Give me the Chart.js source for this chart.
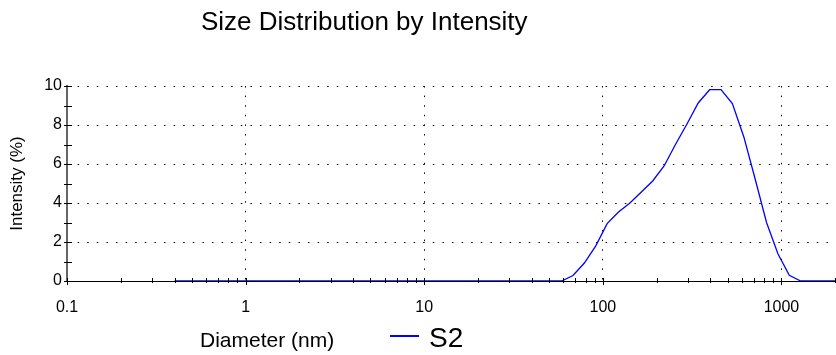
<!DOCTYPE html>
<html>
<head>
<meta charset="utf-8">
<script src="https://cdn.jsdelivr.net/npm/chart.js@4.4.0/dist/chart.umd.min.js"></script>
<style>
    html, body { margin: 0; padding: 0; background: #fff; }
    #contenedor { width: 836px; height: 355px; position: relative; }
</style>
</head>
<body>
<div id="contenedor"><canvas id="graficoTamano"></canvas></div>
<script>
// Clases de tamaño (nm) del equipo
const diametros = [
    0.4, 0.4632, 0.5365, 0.6213, 0.7195, 0.8332, 0.9649, 1.117, 1.294, 1.499,
    1.736, 2.01, 2.328, 2.696, 3.122, 3.615, 4.187, 4.849, 5.615, 6.503,
    7.531, 8.721, 10.1, 11.7, 13.54, 15.69, 18.17, 21.04, 24.36, 28.21,
    32.67, 37.84, 43.82, 50.75, 58.77, 68.06, 78.82, 91.28, 105.7, 122.4,
    141.8, 164.2, 190.1, 220.2, 255.0, 295.3, 342.0, 396.1, 458.7, 531.2,
    615.1, 712.4, 825.0, 955.4, 1106, 1281, 1484, 1718, 1990, 2305,
    2669, 3091, 3580, 4145, 4801, 5560, 6439, 7456, 8635, 10000
];

// Intensidad (%) de la muestra S2
const intensidad = [
    0, 0, 0, 0, 0, 0, 0, 0, 0, 0,
    0, 0, 0, 0, 0, 0, 0, 0, 0, 0,
    0, 0, 0, 0, 0, 0, 0, 0, 0, 0,
    0, 0, 0, 0, 0, 0.28, 0.92, 1.8, 2.94, 3.54,
    4.0, 4.56, 5.13, 5.9, 7.0, 8.04, 9.13, 9.81, 9.81, 9.1,
    7.4, 5.23, 3.0, 1.4, 0.29, 0, 0, 0, 0, 0,
    0, 0, 0, 0, 0, 0, 0, 0, 0, 0
];

const marcasX = [0.1, 1, 10, 100, 1000];
const etiquetasX = ['0.1', '1', '10', '100', '1000'];
const marcasY = [0, 2, 4, 6, 8, 10];
const nombreSerie = 'S2';

const fuente = "'Liberation Sans', Arial, sans-serif";
const puntitos = [1.5, 8.1];

// Marcas pequeñas de los ejes, título y leyenda
const extras = {
    id: 'extras',
    afterDraw(chart) {
        const ctx = chart.ctx;
        const ejeX = chart.scales.x;
        const ejeY = chart.scales.y;
        const abajo = chart.chartArea.bottom;
        const izq = chart.chartArea.left;

        ctx.save();
        ctx.strokeStyle = '#000';
        ctx.lineWidth = 1;
        ctx.beginPath();
        marcasX.forEach(function(dec) {
            for (let j = 1; j <= 9; j++) {
                const v = dec * j;
                if (v > ejeX.max) break;
                const px = Math.round(ejeX.getPixelForValue(v)) + 0.5;
                if (j === 1) {
                    ctx.moveTo(px, abajo - 3);
                    ctx.lineTo(px, abajo + 4);
                } else {
                    ctx.moveTo(px, abajo - 3);
                    ctx.lineTo(px, abajo + 2);
                }
            }
        });
        for (let v = ejeY.min; v <= ejeY.max; v++) {
            const py = Math.round(ejeY.getPixelForValue(v)) + 0.5;
            ctx.moveTo(izq - 3, py);
            ctx.lineTo(izq + 5, py);
        }
        ctx.stroke();

        ctx.fillStyle = '#000';
        ctx.textBaseline = 'alphabetic';
        ctx.textAlign = 'left';
        ctx.font = '26px ' + fuente;
        ctx.fillText('Size Distribution by Intensity', 201, 30);

        ctx.font = '21px ' + fuente;
        ctx.fillText('Diameter (nm)', 200, 347);

        // Leyenda
        const serie = chart.data.datasets[0];
        ctx.strokeStyle = serie.borderColor;
        ctx.lineWidth = 2;
        ctx.beginPath();
        ctx.moveTo(390, 336);
        ctx.lineTo(419, 336);
        ctx.stroke();
        ctx.font = '28px ' + fuente;
        ctx.fillText(serie.label, 429, 347);
        ctx.restore();
    }
};

new Chart(document.getElementById('graficoTamano'), {
    type: 'line',
    data: {
        datasets: [{
            label: nombreSerie,
            data: diametros.map((d, i) => ({ x: d, y: intensidad[i] })),
            borderColor: '#0000ff',
            borderWidth: 1.3,
            pointRadius: 0,
            tension: 0,
            fill: false
        }]
    },
    options: {
        responsive: true,
        maintainAspectRatio: false,
        animation: false,
        layout: { padding: { top: 86, left: 0, right: 0, bottom: 0 } },
        plugins: {
            legend: { display: false },
            tooltip: { enabled: false },
            title: { display: false }
        },
        scales: {
            x: {
                type: 'logarithmic',
                min: 0.1,
                max: 2020,
                afterBuildTicks: function(s) {
                    s.ticks = marcasX.map(v => ({ value: v }));
                },
                afterFit: function(s) { s.height = 74; },
                ticks: {
                    autoSkip: false,
                    maxRotation: 0,
                    padding: 17,
                    color: '#000',
                    font: { family: fuente, size: 16 },
                    callback: function(value, index) { return etiquetasX[index]; }
                },
                grid: {
                    drawTicks: false,
                    lineWidth: 1,
                    color: c => (c.tick && c.tick.value > 0.1 ? '#000' : 'rgba(0,0,0,0)')
                },
                border: { color: '#000', width: 1, dash: puntitos }
            },
            y: {
                min: 0,
                max: 10,
                afterBuildTicks: function(s) {
                    s.ticks = marcasY.map(v => ({ value: v }));
                },
                afterFit: function(s) { s.width = 67; },
                ticks: {
                    padding: 5,
                    color: '#000',
                    font: { family: fuente, size: 16 },
                    callback: function(value) { return String(value); }
                },
                grid: {
                    drawTicks: false,
                    lineWidth: 1,
                    color: c => (c.tick && c.tick.value > 0 ? '#000' : 'rgba(0,0,0,0)')
                },
                border: { color: '#666', width: 2, dash: puntitos },
                title: {
                    display: true,
                    text: 'Intensity (%)',
                    color: '#000',
                    font: { family: fuente, size: 17 },
                    padding: { top: 7, bottom: 0 }
                }
            }
        }
    },
    plugins: [extras]
});
</script>
</body>
</html>
